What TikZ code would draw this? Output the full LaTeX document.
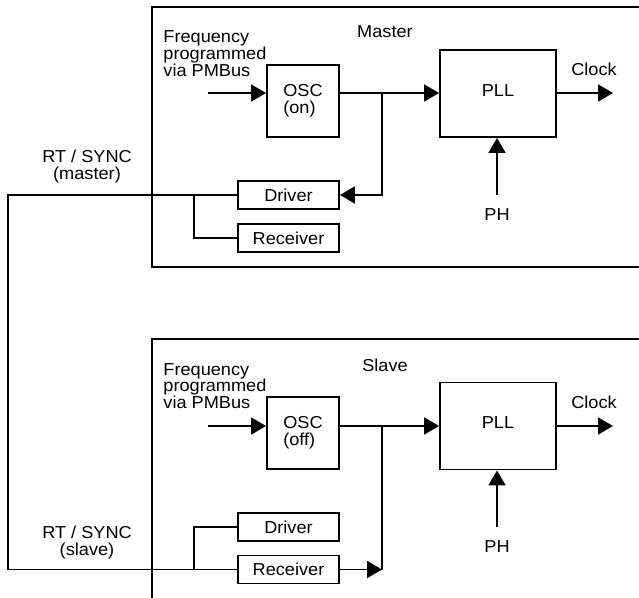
\documentclass[tikz,border=0pt]{standalone}
\usepackage{fontspec}
\setmainfont{Liberation Sans}[FakeStretch=1.05]
\usetikzlibrary{arrows.meta}
\begin{document}
\begin{tikzpicture}[x=1pt,y=-1pt,line width=1.9pt,
  every node/.style={font=\fontsize{17.3}{16.7}\selectfont, inner sep=0pt},
  blk/.style={draw, line width=1.9pt},
  osc/.style={blk, minimum width=72pt, minimum height=72pt, align=left},
  pll/.style={blk, minimum width=116pt, minimum height=87pt, text depth=6pt},
  small/.style={blk, minimum width=101pt, minimum height=28pt},
  arr/.style={-{Triangle[length=15pt,width=17pt]}}]
\useasboundingbox (0,0) rectangle (639,597);

% ---------------- Master ----------------
\draw (650,7) -- (152,7) -- (152,267) -- (650,267);
\node (lblM) [anchor=base] at (385,37.3) {Master};
\node (freqM) [anchor=base west, align=left] at (162.5,76) {Frequency\\programmed\\via PMBus};
\node (oscM) [osc] at (303,101) {OSC\\(on)};
\node (pllM) [pll] at (498,93.5) {PLL};
\node (drvM) [small] at (288.5,195) {Driver};
\node (rcvM) [small] at (288.5,238) {Receiver};
\node (clkM) [anchor=base] at (594,75.7) {Clock};
\node (phM) [anchor=base] at (497,220) {PH};
\node (rtM) [anchor=base, align=center] at (87,179.5) {RT / SYNC\\(master)};
\coordinate (inM) at (208,93);
\coordinate (jM) at (382,93);
\coordinate (outM) at (613,93);
\coordinate (lx) at (8,0);
\coordinate (bx) at (194,0);

\draw[arr] (inM) -- (oscM.west |- inM);
\draw[arr] (oscM.east |- jM) -- (pllM.west |- jM);
\draw[arr] (jM) |- (drvM.east);
\draw[arr] (pllM.east |- outM) -- (outM);
\draw[arr] ([yshift=12.5pt]phM.north) -- (phM.north |- pllM.south);
\draw (drvM.west -| bx) |- (rcvM.west);

% ---------------- Slave ----------------
\draw (650,339) -- (152,339) -- (152,600);
\node (lblS) [anchor=base] at (385,371) {Slave};
\node (freqS) [anchor=base west, align=left] at (162.5,408.5) {Frequency\\programmed\\via PMBus};
\node (oscS) [osc] at (303,433) {OSC\\(off)};
\node (pllS) [pll] at (498,426) {PLL};
\node (drvS) [small] at (288.5,527) {Driver};
\node (rcvS) [small] at (288.5,569.5) {Receiver};
\node (clkS) [anchor=base] at (594,408.3) {Clock};
\node (phS) [anchor=base] at (497,552) {PH};
\node (rtS) [anchor=base, align=center] at (87,555) {RT / SYNC\\(slave)};
\coordinate (inS) at (208,426);
\coordinate (jS) at (382,426);
\coordinate (outS) at (613,426);

\draw[arr] (inS) -- (oscS.west |- inS);
\draw[arr] (oscS.east |- jS) -- (pllS.west |- jS);
\draw (jS) -- (jS |- rcvS.east);
\draw[arr] (rcvS.east) -- (jS |- rcvS.east);
\draw[arr] (pllS.east |- outS) -- (outS);
\draw[arr] ([yshift=12.5pt]phS.north) -- (phS.north |- pllS.south);
\draw (rcvS.west -| bx) |- (drvS.west);

% ---------------- RT / SYNC line ----------------
\draw (drvM.west) -- (drvM.west -| lx) -- (rcvS.west -| lx) -- (rcvS.west);
\end{tikzpicture}
\end{document}
